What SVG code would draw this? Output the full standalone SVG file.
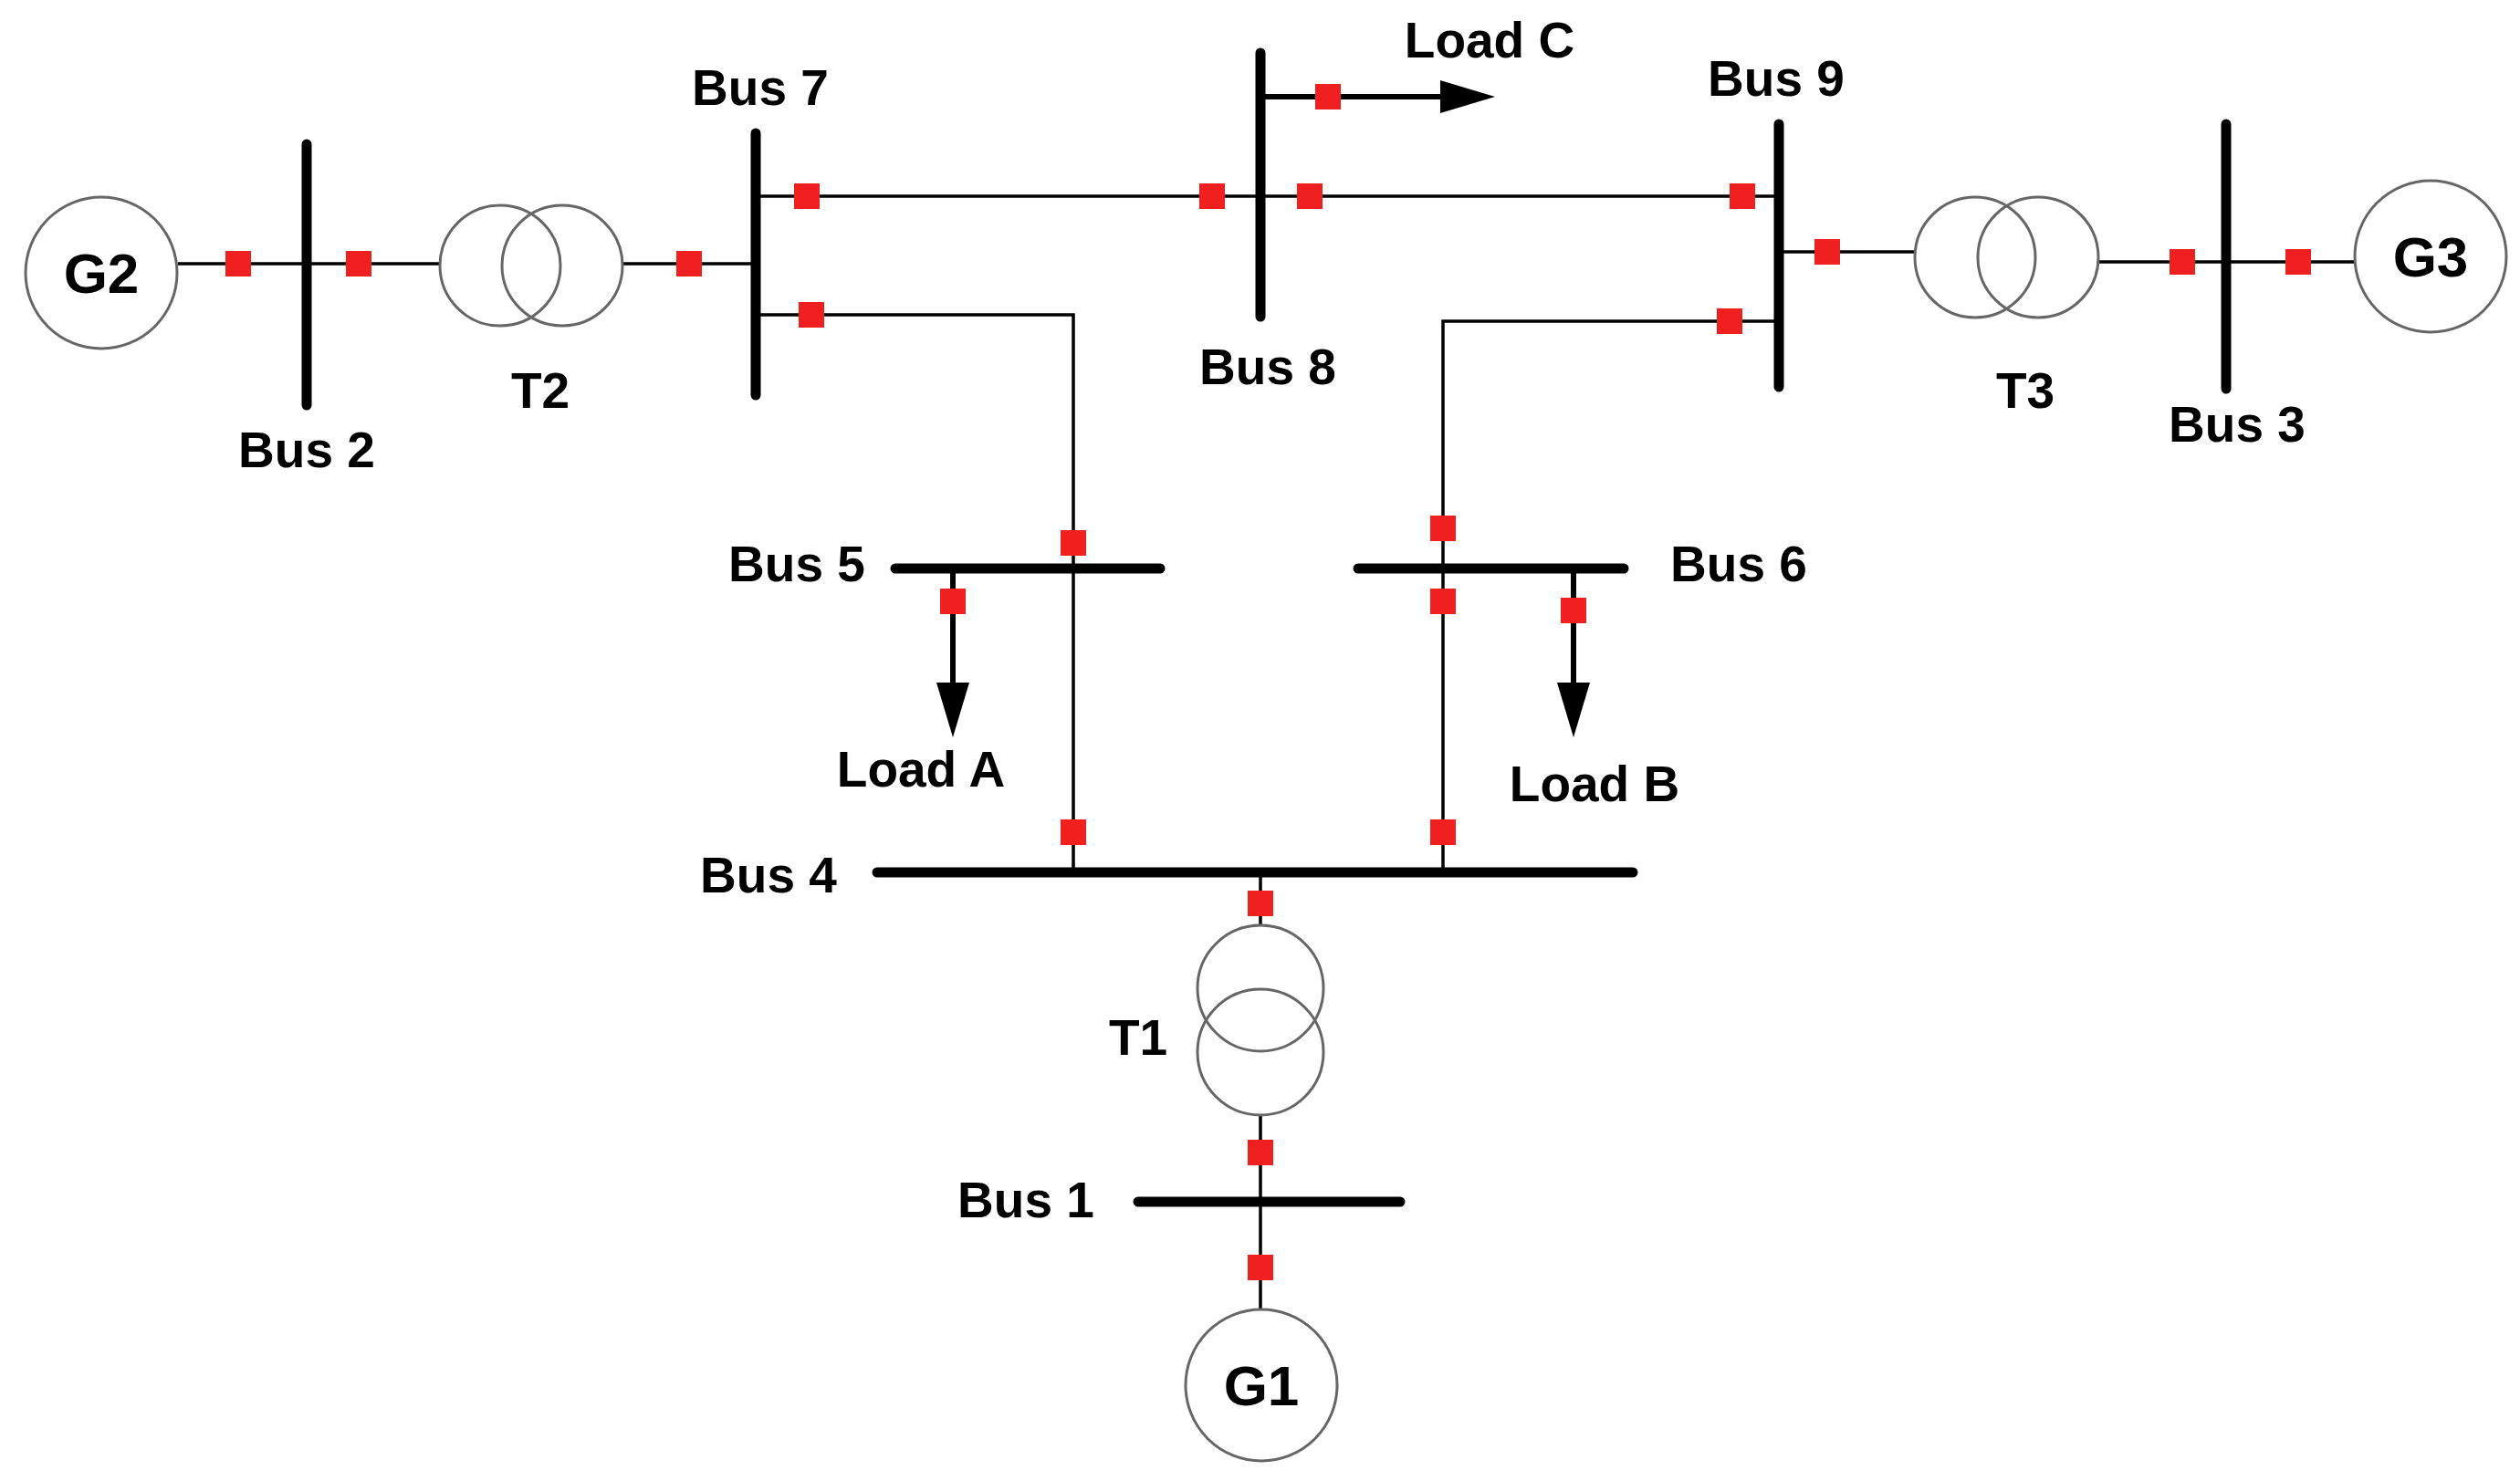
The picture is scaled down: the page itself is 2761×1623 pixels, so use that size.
<svg xmlns="http://www.w3.org/2000/svg" width="2761" height="1623" viewBox="0 0 2761 1623">
<defs>
<style>
.bus{stroke:#000;stroke-width:11;stroke-linecap:round;fill:none}
.ln{stroke:#000;stroke-width:3.5;fill:none}
.ld{stroke:#000;stroke-width:6;fill:none}
.ci{stroke:#666;stroke-width:3;fill:none}
.gc{stroke:#666;stroke-width:3;fill:#fff}
.sq{fill:#f02020}
.t{font-family:"Liberation Sans",Arial,sans-serif;font-weight:bold;font-size:55px;fill:#000;text-anchor:middle}
.g{font-size:62px}
</style>
</defs>
<rect width="2761" height="1623" fill="#fff"/>
<g id="connectors">
<line class="ln" x1="195" y1="289" x2="482" y2="289"/>
<line class="ln" x1="683" y1="289" x2="828" y2="289"/>
<line class="ln" x1="828" y1="215" x2="1949" y2="215"/>
<polyline class="ln" points="828,345 1176,345 1176,956"/>
<polyline class="ln" points="1949,352 1581,352 1581,956"/>
<line class="ln" x1="1949" y1="276" x2="2098" y2="276"/>
<line class="ln" x1="2298" y1="287" x2="2580" y2="287"/>
<line class="ln" x1="1381" y1="956" x2="1381" y2="1014"/>
<line class="ln" x1="1381" y1="1223" x2="1381" y2="1435"/>
<path class="ld" d="M1381,106 H1580"/>
<path d="M1578,88 L1638,106 L1578,124 z"/>
<path class="ld" d="M1044,623 V750"/>
<path d="M1026,748 L1044,808 L1062,748 z"/>
<path class="ld" d="M1724,623 V750"/>
<path d="M1706,748 L1724,808 L1742,748 z"/>
</g>
<g id="G2"><circle class="gc" cx="111" cy="299" r="83"/><text class="t g" x="111" y="321">G2</text></g>
<g id="G3"><circle class="gc" cx="2663" cy="281" r="83"/><text class="t g" x="2663" y="303">G3</text></g>
<g id="G1"><circle class="gc" cx="1382" cy="1518" r="83"/><text class="t g" x="1382" y="1540">G1</text></g>
<g id="T2"><circle class="ci" cx="548" cy="291" r="66"/><circle class="ci" cx="616" cy="291" r="66"/><text class="t" x="592" y="447">T2</text></g>
<g id="T3"><circle class="ci" cx="2164" cy="282" r="66"/><circle class="ci" cx="2233" cy="282" r="66"/><text class="t" x="2219" y="447">T3</text></g>
<g id="T1"><circle class="ci" cx="1381" cy="1083" r="69"/><circle class="ci" cx="1381" cy="1153" r="69"/><text class="t" x="1247" y="1156">T1</text></g>
<g id="Bus2"><line class="bus" x1="336" y1="158" x2="336" y2="444"/><text class="t" x="336" y="512">Bus 2</text></g>
<g id="Bus7"><line class="bus" x1="828" y1="146" x2="828" y2="433"/><text class="t" x="833" y="115">Bus 7</text></g>
<g id="Bus8"><line class="bus" x1="1381" y1="58" x2="1381" y2="347"/><text class="t" x="1389" y="421">Bus 8</text></g>
<g id="Bus9"><line class="bus" x1="1949" y1="136" x2="1949" y2="424"/><text class="t" x="1946" y="105">Bus 9</text></g>
<g id="Bus3"><line class="bus" x1="2439" y1="136" x2="2439" y2="426"/><text class="t" x="2451" y="484">Bus 3</text></g>
<g id="Bus5"><line class="bus" x1="981" y1="623" x2="1271" y2="623"/><text class="t" x="873" y="637">Bus 5</text></g>
<g id="Bus6"><line class="bus" x1="1488" y1="623" x2="1779" y2="623"/><text class="t" x="1905" y="637">Bus 6</text></g>
<g id="Bus4"><line class="bus" x1="961" y1="956" x2="1789" y2="956"/><text class="t" x="842" y="978">Bus 4</text></g>
<g id="Bus1"><line class="bus" x1="1247" y1="1317" x2="1534" y2="1317"/><text class="t" x="1124" y="1334">Bus 1</text></g>
<g id="LoadA"><text class="t" x="1009" y="862">Load A</text></g>
<g id="LoadB"><text class="t" x="1747" y="878">Load B</text></g>
<g id="LoadC"><text class="t" x="1632" y="63">Load C</text></g>
<g id="breakers">
<rect class="sq" x="247" y="275" width="28" height="28"/>
<rect class="sq" x="379" y="275" width="28" height="28"/>
<rect class="sq" x="741" y="275" width="28" height="28"/>
<rect class="sq" x="870" y="201" width="28" height="28"/>
<rect class="sq" x="1314" y="201" width="28" height="28"/>
<rect class="sq" x="1421" y="201" width="28" height="28"/>
<rect class="sq" x="1895" y="201" width="28" height="28"/>
<rect class="sq" x="1441" y="92" width="28" height="28"/>
<rect class="sq" x="875" y="331" width="28" height="28"/>
<rect class="sq" x="1881" y="338" width="28" height="28"/>
<rect class="sq" x="1988" y="262" width="28" height="28"/>
<rect class="sq" x="2377" y="273" width="28" height="28"/>
<rect class="sq" x="2504" y="273" width="28" height="28"/>
<rect class="sq" x="1162" y="581" width="28" height="28"/>
<rect class="sq" x="1162" y="898" width="28" height="28"/>
<rect class="sq" x="1567" y="565" width="28" height="28"/>
<rect class="sq" x="1567" y="645" width="28" height="28"/>
<rect class="sq" x="1567" y="898" width="28" height="28"/>
<rect class="sq" x="1030" y="645" width="28" height="28"/>
<rect class="sq" x="1710" y="655" width="28" height="28"/>
<rect class="sq" x="1367" y="976" width="28" height="28"/>
<rect class="sq" x="1367" y="1249" width="28" height="28"/>
<rect class="sq" x="1367" y="1375" width="28" height="28"/>
</g>
</svg>
